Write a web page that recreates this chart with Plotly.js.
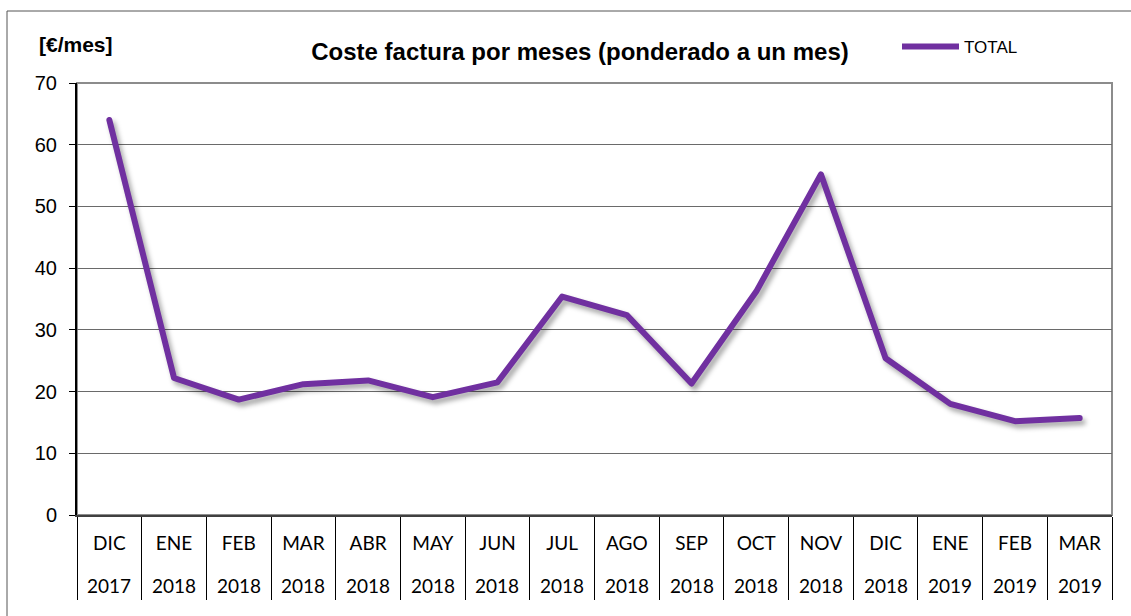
<!DOCTYPE html>
<html>
<head>
<meta charset="utf-8">
<script src="https://cdn.plot.ly/plotly-3.0.1.min.js"></script>
<style>
  html, body { margin: 0; padding: 0; background: #fff; }
  #chart { width: 1131px; height: 616px; }
</style>
</head>
<body>
<div id="chart"></div>
<script>
const months = ["DIC","ENE","FEB","MAR","ABR","MAY","JUN","JUL","AGO","SEP","OCT","NOV","DIC","ENE","FEB","MAR"];
const years  = ["2017","2018","2018","2018","2018","2018","2018","2018","2018","2018","2018","2018","2018","2019","2019","2019"];
const total  = [64.0, 22.2, 18.7, 21.2, 21.8, 19.1, 21.5, 35.4, 32.4, 21.3, 36.2, 55.2, 25.4, 18.0, 15.2, 15.7];
const yTicks = [0, 10, 20, 30, 40, 50, 60, 70];

const cats = months.map((m, i) => m + " " + years[i]);

const W = 1131, H = 616;
const M = { l: 77, r: 19, t: 83, b: 101 };
const PW = W - M.l - M.r, PH = H - M.t - M.b;
const px2x = px => (px - M.l) / PW;
const py2y = py => (H - M.b - py) / PH;

const trace = {
  type: "scatter",
  mode: "lines",
  name: "TOTAL",
  x: cats,
  y: total,
  line: { color: "#7030A0", width: 6 },
  hoverinfo: "x+y"
};

const annotations = years.map((yr, i) => ({
  xref: "x", yref: "paper",
  x: cats[i], y: py2y(585),
  text: yr, showarrow: false,
  xanchor: "center", yanchor: "middle",
  font: { family: "Lato, 'Open Sans', sans-serif", size: 19, color: "#000" }
}));
annotations.push({
  xref: "paper", yref: "paper",
  x: px2x(37), y: py2y(44),
  xanchor: "left", yanchor: "middle",
  text: "<b>[€/mes]</b>", showarrow: false,
  font: { family: "'Liberation Sans', Arial, sans-serif", size: 21, color: "#000" }
});

const layout = {
  width: W, height: H,
  margin: M,
  paper_bgcolor: "#fff",
  plot_bgcolor: "#fff",
  title: {
    text: "<b>Coste factura por meses (ponderado a un mes)</b>",
    font: { family: "'Liberation Sans', Arial, sans-serif", size: 24, color: "#000" },
    xref: "container", yref: "container",
    x: 580 / W, y: 1 - 52 / H,
    xanchor: "center", yanchor: "middle"
  },
  showlegend: true,
  legend: {
    x: px2x(897), y: py2y(47),
    xanchor: "left", yanchor: "middle",
    bgcolor: "rgba(0,0,0,0)",
    font: { family: "'Liberation Sans', Arial, sans-serif", size: 17, color: "#000" },
    itemwidth: 57
  },
  xaxis: {
    type: "category",
    range: [-0.5, cats.length - 0.5],
    tickvals: cats,
    ticktext: months,
    tickson: "boundaries",
    ticks: "outside",
    ticklen: 83,
    tickwidth: 1,
    tickcolor: "#000",
    ticklabelstandoff: 10,
    showgrid: false,
    showline: true,
    linecolor: "#404040",
    linewidth: 2,
    tickfont: { family: "Lato, 'Open Sans', sans-serif", size: 19, color: "#000" },
    fixedrange: true
  },
  yaxis: {
    range: [0, 70],
    tickvals: yTicks,
    ticks: "outside",
    ticklen: 6,
    tickcolor: "#000",
    tickwidth: 1,
    ticklabelstandoff: 8,
    showgrid: true,
    gridcolor: "#6a6a6a",
    gridwidth: 1.2,
    zeroline: false,
    showline: true,
    linecolor: "#000",
    linewidth: 2,
    tickfont: { family: "'Liberation Sans', Arial, sans-serif", size: 20, color: "#000" },
    fixedrange: true
  },
  shapes: [
    { type: "rect", xref: "paper", yref: "paper",
      x0: px2x(7), x1: px2x(1140), y0: py2y(630), y1: py2y(11),
      line: { color: "#555", width: 1 }, fillcolor: "rgba(0,0,0,0)", layer: "below" },
    { type: "rect", xref: "paper", yref: "paper",
      x0: 0, x1: 1, y0: 0, y1: 1,
      line: { color: "#8c8c8c", width: 2 }, fillcolor: "rgba(0,0,0,0)", layer: "below" }
  ],
  annotations: annotations
};

Plotly.newPlot("chart", [trace], layout, { displayModeBar: false }).then(gd => {
  gd.querySelectorAll(".scatterlayer .trace path.js-line").forEach(p => {
    p.style.filter = "drop-shadow(3px 4px 2.5px rgba(0,0,0,0.35))";
    p.style.strokeLinecap = "round";
    p.style.strokeLinejoin = "round";
  });
});
</script>
</body>
</html>
